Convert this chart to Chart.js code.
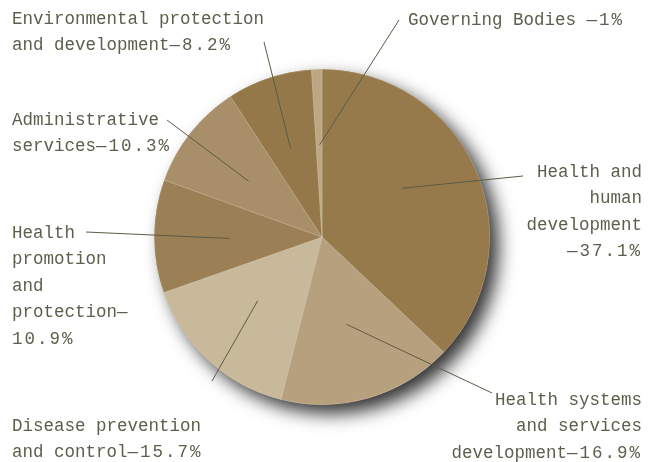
<!DOCTYPE html>
<html>
<head>
<meta charset="utf-8">
<script src="https://cdn.jsdelivr.net/npm/chart.js@4/dist/chart.umd.min.js"></script>
<style>
  body { margin: 0; background: #fff; }
  #wrap { width: 659px; height: 462px; position: relative; }
</style>
</head>
<body>
<div id="wrap"><canvas id="pie"></canvas></div>
<script>
// data, clockwise from 12 o'clock
const categories = [
  'Health and human development',
  'Health systems and services development',
  'Disease prevention and control',
  'Health promotion and protection',
  'Administrative services',
  'Environmental protection and development',
  'Governing Bodies'
];
const shares = [37.1, 16.9, 15.7, 10.9, 10.3, 8.2, 1];
const sliceColors = ['#977a4b', '#b7a07e', '#c9b99b', '#9b7f55', '#a88f69', '#957849', '#bfa682'];

// label text, split the way it is printed
const labelLines = [
  ['Health and', 'human', 'development', '\u201437.1%'],
  ['Health systems', 'and services', 'development\u201416.9%'],
  ['Disease prevention', 'and control\u201415.7%'],
  ['Health', 'promotion', 'and', 'protection\u2014', '10.9%'],
  ['Administrative', 'services\u201410.3%'],
  ['Environmental protection', 'and development\u20148.2%'],
  ['Governing Bodies \u20141%']
];

// where each callout goes (t = fraction along the slice, rf = fraction of radius)
const callouts = [
  { t: 0.44, rf: 0.56, end: [523, 176], x: 642, y: 172, align: 'right' },
  { t: 0.51, rf: 0.54, end: [492, 393], x: 642, y: 400, align: 'right' },
  { t: 0.55, rf: 0.54, end: [212, 381], x: 12, y: 426, align: 'left' },
  { t: 0.47, rf: 0.55, end: [86, 232], x: 12, y: 233, align: 'left' },
  { t: 0.47, rf: 0.55, end: [167, 120], x: 12, y: 120, align: 'left' },
  { t: 0.46, rf: 0.56, end: [264, 42], x: 12, y: 19, align: 'left' },
  { t: 0.60, rf: 0.55, end: [399, 20], x: 408, y: 20, align: 'left' }
];

const shadowPlugin = {
  id: 'pieShadow',
  beforeDatasetsDraw(chart) {
    const arc = chart.getDatasetMeta(0).data[0];
    if (!arc) return;
    const ctx = chart.ctx;
    ctx.save();
    ctx.shadowColor = 'rgba(0,0,0,0.8)';
    ctx.shadowBlur = 18;
    ctx.shadowOffsetX = 9;
    ctx.shadowOffsetY = 9;
    ctx.fillStyle = '#a08660';
    ctx.beginPath();
    ctx.arc(arc.x, arc.y, arc.outerRadius, 0, Math.PI * 2);
    ctx.fill();
    ctx.restore();
  }
};

// numbers in the labels are set a bit looser than the words
function drawLine(ctx, line, x, y, align) {
  const parts = line.split(/(\u2014?[\d.]+%)/).filter(p => p.length);
  const pieces = parts.map(p => {
    const sp = /[\d.]+%/.test(p) ? 2 : 0;
    ctx.letterSpacing = sp + 'px';
    return { text: p, sp: sp, w: ctx.measureText(p).width };
  });
  const total = pieces.reduce((s, p) => s + p.w, 0);
  let cx = align === 'right' ? x - total : x;
  pieces.forEach(p => {
    ctx.letterSpacing = p.sp + 'px';
    ctx.fillText(p.text, cx, y);
    cx += p.w;
  });
  ctx.letterSpacing = '0px';
}

const calloutPlugin = {
  id: 'callouts',
  afterDatasetsDraw(chart) {
    const ctx = chart.ctx;
    const arcs = chart.getDatasetMeta(0).data;
    ctx.save();
    ctx.strokeStyle = '#5b5b45';
    ctx.lineWidth = 1;
    ctx.fillStyle = '#5e5e4c';
    ctx.font = '17.5px "Liberation Mono", "Courier New", monospace';
    ctx.textBaseline = 'middle';
    ctx.textAlign = 'left';
    arcs.forEach((arc, i) => {
      const c = callouts[i];
      const a = arc.startAngle + (arc.endAngle - arc.startAngle) * c.t;
      const r = arc.outerRadius * c.rf;
      ctx.beginPath();
      ctx.moveTo(arc.x + Math.cos(a) * r, arc.y + Math.sin(a) * r);
      ctx.lineTo(c.end[0], c.end[1]);
      ctx.stroke();
      labelLines[i].forEach((line, k) => {
        drawLine(ctx, line, c.x, c.y + k * 26.5, c.align);
      });
    });
    ctx.restore();
  }
};

new Chart(document.getElementById('pie'), {
  type: 'pie',
  data: {
    labels: categories,
    datasets: [{
      data: shares,
      backgroundColor: sliceColors,
      borderColor: 'rgba(255,255,255,0.3)',
      borderWidth: 0.6,
      hoverOffset: 0
    }]
  },
  options: {
    responsive: true,
    maintainAspectRatio: false,
    animation: false,
    layout: { padding: { top: 69, bottom: 57, left: 154, right: 169 } },
    plugins: {
      legend: { display: false },
      tooltip: { enabled: false }
    }
  },
  plugins: [shadowPlugin, calloutPlugin]
});
</script>
</body>
</html>
